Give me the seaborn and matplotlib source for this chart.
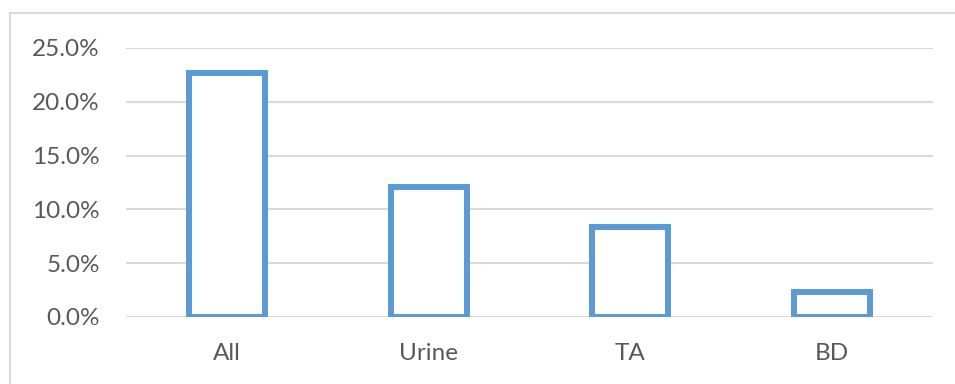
import matplotlib
matplotlib.use("Agg")
import matplotlib.pyplot as plt
import seaborn as sns
import pandas as pd
from matplotlib.patches import Rectangle
from matplotlib.ticker import FuncFormatter

categories = ["All", "Urine", "TA", "BD"]
rates = [0.227, 0.121, 0.084, 0.023]
y_ticks = [0.0, 0.05, 0.10, 0.15, 0.20, 0.25]

sns.set_theme(style="white")
plt.rcParams["font.family"] = ["Lato", "DejaVu Sans"]

TEXT = "#595959"
GRID = "#D9D9D9"
BLUE = "#5B9BD5"

df = pd.DataFrame({"group": categories, "rate": rates})

fig = plt.figure(figsize=(9.55, 3.84), dpi=100)
ax = fig.add_axes([0.132, 0.1745, 0.845, 0.7005])

sns.barplot(data=df, x="group", y="rate", order=categories, ax=ax,
            color="white", edgecolor=BLUE, linewidth=4.3, width=0.377,
            saturation=1, zorder=3)

ax.set_ylim(0, 0.25)
ax.set_xlim(-0.5, len(categories) - 0.5)
ax.set_yticks(y_ticks)
ax.yaxis.set_major_formatter(FuncFormatter(lambda v, _: f"{v * 100:.1f}%"))
ax.grid(axis="y", color=GRID, linewidth=1.5, zorder=0)
ax.set_axisbelow(True)
for s in ax.spines.values():
    s.set_visible(False)
ax.tick_params(axis="both", length=0, labelsize=17.5, colors=TEXT)
ax.tick_params(axis="y", pad=19)
ax.tick_params(axis="x", pad=19)
ax.set_xlabel("")
ax.set_ylabel("")

# chart area frame
fig.patches.append(Rectangle((10 / 955, -0.1), 1.2, 1 - 13 / 384 + 0.1,
                             transform=fig.transFigure, fill=False,
                             edgecolor=GRID, linewidth=1.5))

fig.savefig("out.png", dpi=100)
